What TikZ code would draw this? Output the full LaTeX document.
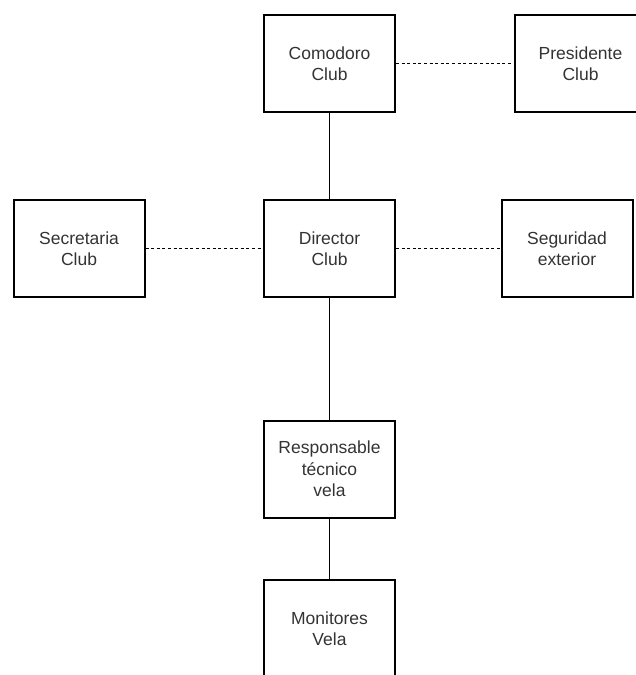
\documentclass[tikz,border=0pt]{standalone}
\usepackage{fontspec}
\setmainfont{Liberation Sans}

\begin{document}
\begin{tikzpicture}[x=1pt,y=-1pt,
    box/.style={draw,line width=2pt,minimum width=131pt,minimum height=97pt,
      align=center,inner sep=0pt,text=black!80,font=\fontsize{17.5}{21.5}\selectfont},
    solidlink/.style={line width=0.9pt},
    dashlink/.style={line width=0.9pt,dash pattern=on 3pt off 2.6pt}]
      \useasboundingbox (0,0) rectangle (636,675);
      \node[box] (comodoro) at (329.5,63.5) {Comodoro\\Club};
      \node[box] (presidente) at (580.5,63.5) {Presidente\\Club};
      \node[box] (secretaria) at (79,248.5) {Secretaria\\Club};
      \node[box] (director) at (329.5,248.5) {Director\\Club};
      \node[box] (seguridad) at (567,248.5) {Seguridad\\exterior};
      \node[box] (responsable) at (329.5,469) {Responsable\\técnico\\vela};
      \node[box] (monitores) at (329.5,628.5) {Monitores\\Vela};
      \draw[dashlink] (comodoro) -- (presidente);
      \draw[dashlink] (secretaria) -- (director);
      \draw[dashlink] (director) -- (seguridad);
      \draw[solidlink] (comodoro) -- (director);
      \draw[solidlink] (director) -- (responsable);
      \draw[solidlink] (responsable) -- (monitores);
    \end{tikzpicture}
\end{document}
